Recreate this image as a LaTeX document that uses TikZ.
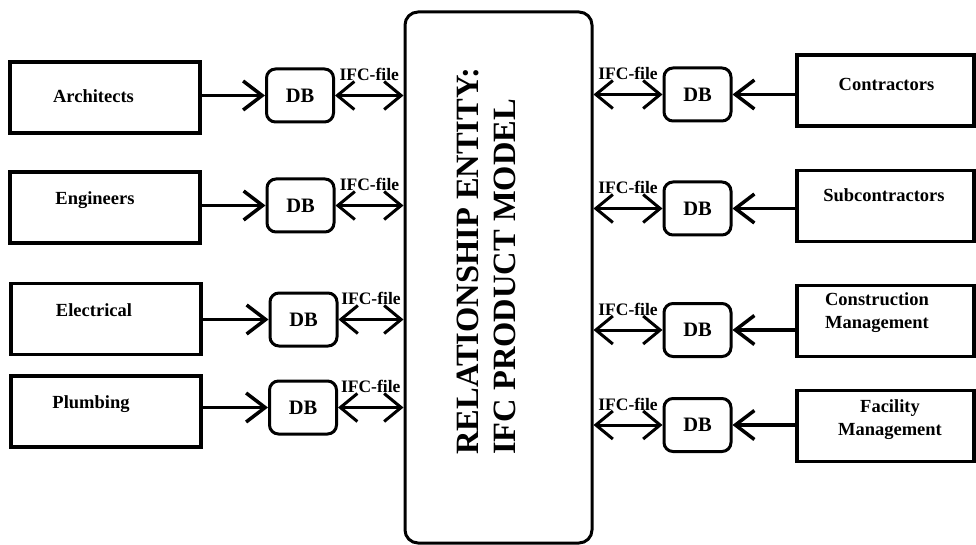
\documentclass[tikz,border=0pt]{standalone}
\usepackage{fontspec}
\setmainfont{Liberation Serif}
\usetikzlibrary{arrows.meta,positioning,calc}
\tikzset{
  bx/.style={draw=black, line width=3.5pt, inner sep=0pt},
  party/.style={bx, minimum width=190pt, minimum height=71pt},
  partyr/.style={bx, minimum width=177pt, minimum height=71pt},
  db/.style={bx, line width=3pt, rounded corners=9pt, minimum width=67pt, minimum height=53pt, font=\fontsize{20.5}{22}\selectfont\bfseries},
  hub/.style={bx, line width=3pt, rounded corners=13pt, minimum width=187pt, minimum height=531pt},
  who/.style={font=\fontsize{18.5}{23}\selectfont\bfseries, inner sep=0pt},
  ifc/.style={font=\fontsize{17.5}{20}\selectfont\bfseries, inner sep=0pt},
  arr/.style={-{Straight Barb[length=19pt, width=29pt]}, line width=3.5pt},
  arr2/.style={{Straight Barb[length=17pt, width=28pt]}-{Straight Barb[length=17pt, width=28pt]}, line width=3pt},
}

\begin{document}
\begin{tikzpicture}[x=1pt, y=-1pt]
  \useasboundingbox (0,0) rectangle (976,545);

  % product model in the middle
  \node[hub] (rel) at (498.5,277.5) {};
  \node[rotate=90, align=left, anchor=west, inner sep=0pt,
        font=\fontsize{32.5}{37}\selectfont\bfseries] (reltxt) at (486.5,455)
        {RELATIONSHIP ENTITY:\\IFC PRODUCT MODEL};

  % design side
  \node[party] (arch) at (105,97.5) {};
  \node[party] (eng)  at (105,207.5) {};
  \node[party] (elec) at (106,319) {};
  \node[party] (plmb) at (106,411.5) {};
  \node[who] (archtxt) at (93.5,96) {Architects};
  \node[who] (engtxt)  at (95,200) {Engineers};
  \node[who] (electxt) at (94,310) {Electrical};
  \node[who] (plmbtxt) at (91,404) {Plumbing};

  \node[db] (archdb) at (300,95.5) {DB};
  \node[db] (engdb)  at (300.5,205.5) {DB};
  \node[db] (elecdb) at (303.5,319.5) {DB};
  \node[db] (plmbdb) at (303,407.5) {DB};

  % construction side
  \node[partyr] (con)  at (885.5,90.5) {};
  \node[partyr] (sub)  at (885.5,206) {};
  \node[partyr] (cm)   at (885.5,321) {};
  \node[partyr] (fm)   at (885.5,426) {};
  \node[who] (contxt) at (886.5,84) {Contractors};
  \node[who] (subtxt) at (884,195) {Subcontractors};
  \node[who, align=left] (cmtxt) at (877,313) {Construction\\Management};
  \node[who, align=center] (fmtxt) at (890,420) {Facility\\Management};

  \node[db] (condb) at (697.5,94.5) {DB};
  \node[db] (subdb) at (697.5,208.5) {DB};
  \node[db] (cmdb)  at (697.5,330) {DB};
  \node[db] (fmdb)  at (697.5,425) {DB};

  % exports into the databases
  \draw[arr] (arch.east |- archdb.west) -- (archdb.west);
  \draw[arr] (eng.east |- engdb.west) -- (engdb.west);
  \draw[arr] (elec.east |- elecdb.west) -- (elecdb.west);
  \draw[arr] (plmb.east |- plmbdb.west) -- (plmbdb.west);
  \draw[arr] (con.west |- condb.east) -- (condb.east);
  \draw[arr] (sub.west |- subdb.east) -- (subdb.east);
  \draw[arr] (cm.west |- cmdb.east) -- (cmdb.east);
  \draw[arr] (fm.west |- fmdb.east) -- (fmdb.east);

  % IFC exchange with the model
  \draw[arr2] (archdb.east) -- (archdb.east -| rel.west) node[ifc, midway, above=13pt] {IFC-file};
  \draw[arr2] (engdb.east) -- (engdb.east -| rel.west) node[ifc, midway, above=13pt] {IFC-file};
  \draw[arr2] (elecdb.east) -- (elecdb.east -| rel.west) node[ifc, midway, above=13pt] {IFC-file};
  \draw[arr2] (plmbdb.east) -- (plmbdb.east -| rel.west) node[ifc, midway, above=13pt] {IFC-file};
  \draw[arr2] (rel.east |- condb.west) -- (condb.west) node[ifc, midway, above=13pt] {IFC-file};
  \draw[arr2] (rel.east |- subdb.west) -- (subdb.west) node[ifc, midway, above=13pt] {IFC-file};
  \draw[arr2] (rel.east |- cmdb.west) -- (cmdb.west) node[ifc, midway, above=13pt] {IFC-file};
  \draw[arr2] (rel.east |- fmdb.west) -- (fmdb.west) node[ifc, midway, above=13pt] {IFC-file};
\end{tikzpicture}
\end{document}
